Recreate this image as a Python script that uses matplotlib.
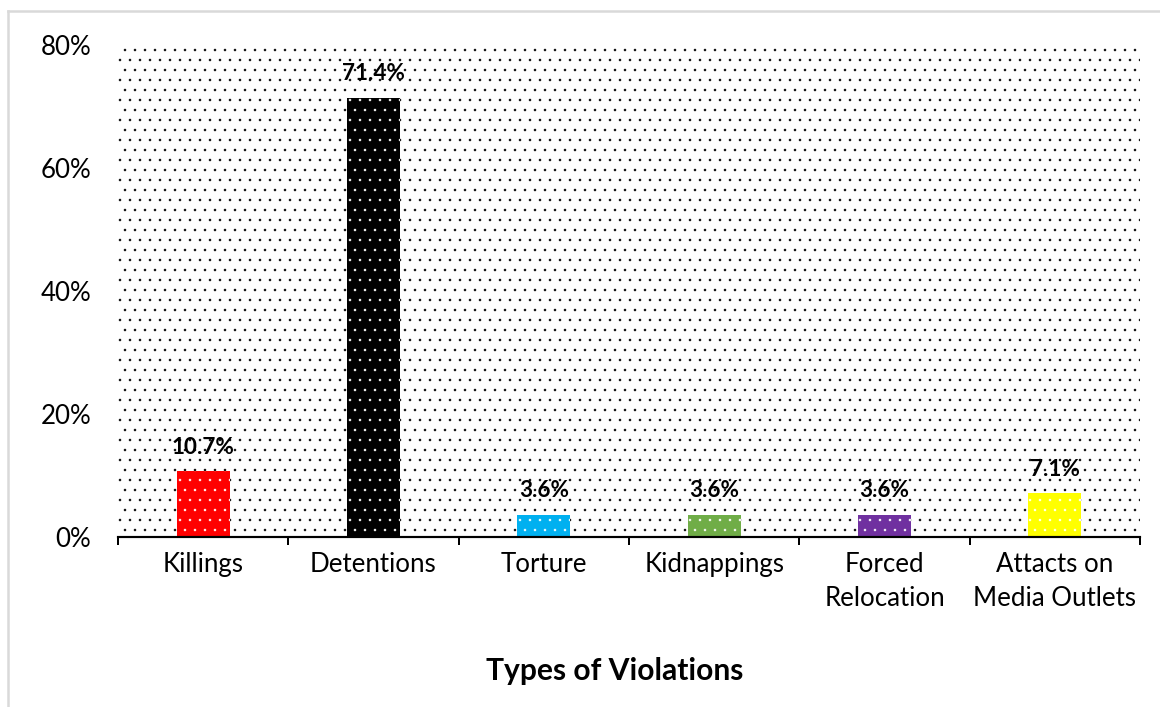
import matplotlib.pyplot as plt
from matplotlib.patches import Rectangle
from matplotlib.lines import Line2D
from matplotlib.ticker import PercentFormatter

plt.rcParams['font.family'] = ['Lato', 'DejaVu Sans']
plt.rcParams['hatch.linewidth'] = 0.3

categories = ["Killings", "Detentions", "Torture", "Kidnappings",
              "Forced\nRelocation", "Attacts on\nMedia Outlets"]
values = [10.7, 71.4, 3.6, 3.6, 3.6, 7.1]
colors = ["#FF0000", "#000000", "#00B0F0", "#70AD47", "#7030A0", "#FFFF00"]
yticks = [0, 20, 40, 60, 80]

dpi = 120
fig = plt.figure(figsize=(1160 / dpi, 707 / dpi), dpi=dpi)
ax = fig.add_axes([118 / 1160, 1 - 537 / 707, (1140 - 118) / 1160, (537 - 45) / 707])

# dotted plot area background
bg = Rectangle((0, 0), 1, 1, transform=ax.transAxes, facecolor="white",
               edgecolor="black", linewidth=0, hatch="..", zorder=0)
ax.add_patch(bg)

x = range(len(categories))
bars = ax.bar(x, values, width=0.31, color=colors, edgecolor="white",
              linewidth=0, hatch="..", zorder=2)

for b, v in zip(bars, values):
    ax.text(b.get_x() + b.get_width() / 2, v + 2.2, f"{v}%", ha="center",
            va="bottom", fontsize=13.5, fontweight="bold", zorder=3)

ax.set_xlim(-0.5, len(categories) - 0.5)
ax.set_ylim(0, 80)
ax.set_yticks(yticks)
ax.yaxis.set_major_formatter(PercentFormatter(decimals=0))
ax.tick_params(axis="y", length=0, pad=16, labelsize=15.5)

ax.set_xticks(list(x))
ax.set_xticklabels(categories, fontsize=15.5, linespacing=1.45)
ax.set_xticks([i - 0.5 for i in range(len(categories) + 1)], minor=True)
ax.tick_params(axis="x", which="major", length=0, pad=9)
ax.tick_params(axis="x", which="minor", length=5, width=1.2, color="black", direction="out")

for s in ["top", "right", "left"]:
    ax.spines[s].set_visible(False)
ax.spines["bottom"].set_linewidth(1.3)
ax.spines["bottom"].set_zorder(4)

fig.text(615 / 1160, 1 - 671 / 707, "Types of Violations", ha="center",
         va="center", fontsize=18, fontweight="bold")

# chart border (top and left edges visible)
fig.add_artist(Line2D([8 / 1160, 8 / 1160], [0, 1 - 11 / 707], transform=fig.transFigure,
                      color="#D9D9D9", linewidth=1.5))
fig.add_artist(Line2D([8 / 1160, 1], [1 - 11 / 707, 1 - 11 / 707], transform=fig.transFigure,
                      color="#D9D9D9", linewidth=1.5))

fig.savefig("out.png", dpi=dpi)
